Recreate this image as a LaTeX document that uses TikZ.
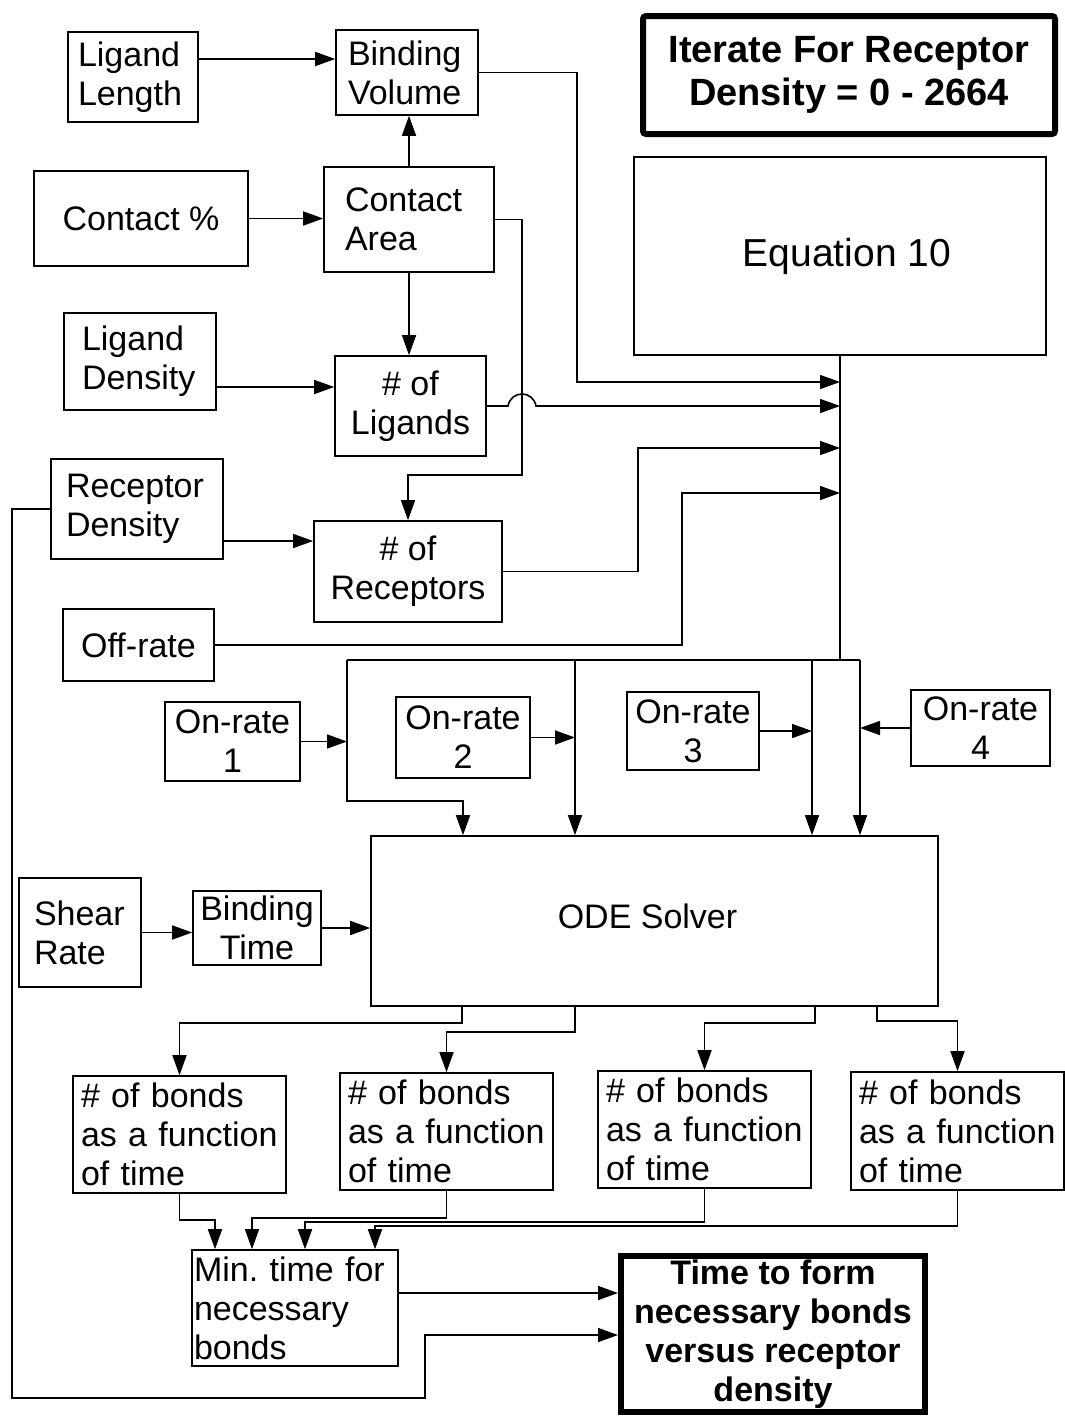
\documentclass[tikz,border=0pt]{standalone}
\usepackage{fontspec}
\setmainfont{Liberation Sans}
\usetikzlibrary{arrows.meta}
\frenchspacing
\begin{document}
\begin{tikzpicture}[x=1pt,y=-1pt,
  box/.style={draw, line width=1.6pt, inner sep=0pt, font=\fontsize{34}{39}\selectfont, align=center},
  arr/.style={line width=1.6pt, -{Triangle[length=20pt,width=14pt]}},
  ln/.style={line width=1.6pt}]
\useasboundingbox (0,0) rectangle (1065,1416);
\fill[white] (0,0) rectangle (1065,1416);

% boxes
\node[box, align=left, inner xsep=10pt, text width=110pt, minimum width=130pt, minimum height=90pt] (LL) at (133,77) {Ligand\\Length};
\node[box, align=left, inner xsep=12pt, text width=118pt, minimum width=142pt, minimum height=85pt] (BV) at (407,72.5) {Binding\\Volume};
\node[box, line width=6pt, rounded corners=3pt, minimum width=412pt, minimum height=118pt, font=\bfseries\fontsize{38}{43}\selectfont] (TI) at (849,75) {Iterate For Receptor\\Density = 0 - 2664};
\node[box, minimum width=214pt, minimum height=95pt] (CP) at (141,218.5) {Contact \%};
\node[box, align=left, inner xsep=21pt, text width=128pt, minimum width=170pt, minimum height=105pt] (CA) at (409,219.5) {Contact\\Area};
\node[box, minimum width=412pt, minimum height=198pt, font=\fontsize{39}{44}\selectfont] (EQ) at (840,256) {\hspace*{14pt}Equation 10};
\node[box, align=left, inner xsep=18pt, text width=116pt, minimum width=152pt, minimum height=97pt] (LD) at (140,361.5) {Ligand\\Density};
\node[box, minimum width=151pt, minimum height=100pt] (LG) at (410.5,406) {\# of\\Ligands};
\node[box, align=left, inner xsep=15pt, text width=142pt, minimum width=172pt, minimum height=100pt] (RD) at (137,509) {Receptor\\Density};
\node[box, minimum width=188pt, minimum height=101pt] (RC) at (408,571.5) {\# of\\Receptors};
\node[box, minimum width=151pt, minimum height=72pt] (OF) at (138.5,645) {Off-rate};
\node[box, minimum width=135pt, minimum height=79pt] (O1) at (232.5,741.5) {On-rate\\1};
\node[box, minimum width=134pt, minimum height=81pt] (O2) at (463,737.5) {On-rate\\2};
\node[box, minimum width=132pt, minimum height=78pt] (O3) at (693,731) {On-rate\\3};
\node[box, minimum width=139pt, minimum height=76pt] (O4) at (980.5,728) {On-rate\\4};
\node[box, align=left, inner xsep=15pt, text width=92pt, minimum width=122pt, minimum height=109pt] (SR) at (80,932.5) {Shear\\Rate};
\node[box, minimum width=128pt, minimum height=74pt] (BT) at (257,928) {Binding\\Time};
\node[box, minimum width=567pt, minimum height=170pt] (ODE) at (654.5,921) {\raisebox{9pt}{ODE Solver\hspace*{14pt}}};
\node[box, align=left, inner xsep=8pt, text width=197pt, minimum width=213pt, minimum height=117pt] (B1) at (179.5,1134.5) {\# of bonds\\as a function\\of time};
\node[box, align=left, inner xsep=8pt, text width=197pt, minimum width=213pt, minimum height=117pt] (B2) at (446.5,1131.5) {\# of bonds\\as a function\\of time};
\node[box, align=left, inner xsep=8pt, text width=197pt, minimum width=213pt, minimum height=117pt] (B3) at (704.5,1129.5) {\# of bonds\\as a function\\of time};
\node[box, align=left, inner xsep=8pt, text width=197pt, minimum width=213pt, minimum height=118pt] (B4) at (957.5,1131) {\# of bonds\\as a function\\of time};
\node[box, align=left, inner xsep=2pt, text width=202pt, minimum width=206pt, minimum height=116pt] (MN) at (295,1308) {Min. time for\\necessary\\bonds};
\node[box, line width=6pt, minimum width=304pt, minimum height=156pt, font=\bfseries\fontsize{34}{39}\selectfont] (TF) at (773,1334) {Time to form\\necessary bonds\\versus receptor\\density};

% helper coordinates
\coordinate (a1) at (0,59);
\coordinate (a2) at (0,387);
\coordinate (a3) at (0,541);
\coordinate (c1) at (577,382); \coordinate (j1) at (840,382);
\coordinate (c2) at (522,475);
\coordinate (k1) at (508,406); \coordinate (k2) at (536,406); \coordinate (j2) at (840,406);
\coordinate (c3) at (638,448); \coordinate (j3) at (840,448);
\coordinate (c4) at (682,493); \coordinate (j4) at (840,493);
\coordinate (h0) at (840,660);
\coordinate (h1) at (347,660); \coordinate (h2) at (575,660);
\coordinate (h3) at (812,660); \coordinate (h4) at (860,660);
\coordinate (k3) at (463,801);
\coordinate (d1) at (462,1023); \coordinate (d2) at (575,1032);
\coordinate (d3) at (815,1023); \coordinate (d4) at (877,1021);
\coordinate (e1) at (215,1220); \coordinate (e2) at (252,1218);
\coordinate (e3) at (305,1222); \coordinate (e4) at (375,1226);
\coordinate (t1) at (0,1293);
\coordinate (f1) at (12,1398); \coordinate (f2) at (425,1335);

% connectors
\draw[arr] (LL.east |- a1) -- (BV.west |- a1);
\draw[arr] (CA.north) -- (CA.north |- BV.south);
\draw[arr] (CP.east) -- (CP.east -| CA.west);
\draw[arr] (CA.south) -- (CA.south |- LG.north);
\draw[arr] (LD.east |- a2) -- (LG.west |- a2);
\draw[arr] (RD.east |- a3) -- (RC.west |- a3);

\draw[arr] (BV.east) -| (c1) -- (j1);
\draw[arr] (CA.east) -| (c2) -| (RC.north);
\draw[arr] (LG.east) -- (k1) .. controls (511,390) and (533,390) .. (k2) -- (j2);
\draw[arr] (RC.east) -| (c3) -- (j3);
\draw[arr] (OF.east) -| (c4) -- (j4);

\draw[ln] (EQ.south) -- (h0);
\draw[ln] (h1) -- (h4);
\draw[arr] (h1) |- (k3) -- (k3 |- ODE.north);
\draw[arr] (h2) -- (h2 |- ODE.north);
\draw[arr] (h3) -- (h3 |- ODE.north);
\draw[arr] (h4) -- (h4 |- ODE.north);
\draw[arr] (O1.east) -- (O1.east -| h1);
\draw[arr] (O2.east) -- (O2.east -| h2);
\draw[arr] (O3.east) -- (O3.east -| h3);
\draw[arr] (O4.west) -- (O4.west -| h4);

\draw[arr] (SR.east) -- (SR.east -| BT.west);
\draw[arr] (BT.east) -- (BT.east -| ODE.west);

\draw[arr] (d1 |- ODE.south) -- (d1) -| (B1.north);
\draw[arr] (d2 |- ODE.south) -- (d2) -| (B2.north);
\draw[arr] (d3 |- ODE.south) -- (d3) -| (B3.north);
\draw[arr] (d4 |- ODE.south) -- (d4) -| (B4.north);

\draw[arr] (B1.south) |- (e1) -- (e1 |- MN.north);
\draw[arr] (B2.south) |- (e2) -- (e2 |- MN.north);
\draw[arr] (B3.south) |- (e3) -- (e3 |- MN.north);
\draw[arr] (B4.south) |- (e4) -- (e4 |- MN.north);

\draw[arr] (MN.east |- t1) -- (TF.west |- t1);
\draw[arr] (RD.west) -| (f1) -| (f2) -- (TF.west |- f2);
\end{tikzpicture}
\end{document}
